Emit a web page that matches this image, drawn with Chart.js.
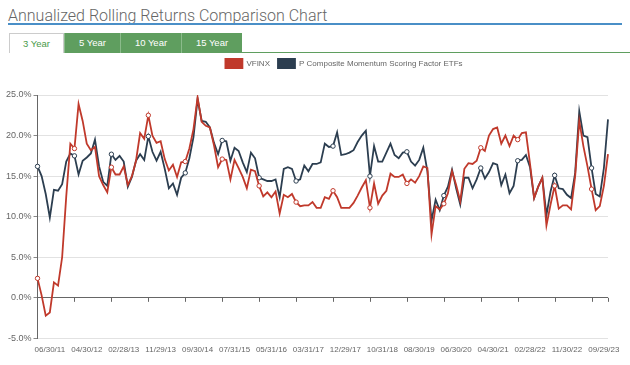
<!DOCTYPE html>
<html>
<head>
<meta charset="utf-8">
<script src="https://cdn.jsdelivr.net/npm/chart.js@4.4.0/dist/chart.umd.min.js"></script>
<style>
  body { margin: 0; background: #fff; width: 630px; height: 365px; overflow: hidden; position: relative; font-family: "Liberation Sans", Arial, sans-serif; }
  .title { position: absolute; left: 8px; top: 8px; font: 300 16px/16px Roboto, "Liberation Sans", sans-serif; color: #666; white-space: nowrap; }
  .rule { position: absolute; left: 8px; top: 23px; width: 614px; height: 2px; background: #4a8fc7; }
  .tabs { position: absolute; left: 9px; top: 33px; height: 20px; display: flex; }
  .tab { height: 20px; line-height: 20px; text-align: center; font-size: 9.5px; color: #fff; background: #5f9e5f; border-left: 1px solid #8bbb8b; box-sizing: border-box; }
  .tab.active { background: #fff; color: #4a9a4a; border: 1px solid #ccc; border-bottom: none; }
  .tabline { position: absolute; left: 242px; top: 52px; width: 388px; height: 1px; background: #5f9e5f; }
  #myChart { position: absolute; left: 0; top: 51px; }
</style>
</head>
<body>
<div class="title">Annualized Rolling Returns Comparison Chart</div>
<div class="rule"></div>
<div class="tabs">
  <div class="tab active" style="width:55px">3 Year</div>
  <div class="tab" style="width:56px">5 Year</div>
  <div class="tab" style="width:61px">10 Year</div>
  <div class="tab" style="width:61px">15 Year</div>
</div>
<div class="tabline"></div>
<canvas id="myChart" width="630" height="314"></canvas>
<script>
// rolling 3 year returns, %, one value per period
let vfinx = [
    2.4, 0.3, -2.2, -1.8, 1.9, 1.5, 5.0, 12.5, 19.0, 18.4,
    23.9, 21.8, 19.0, 18.2, 18.6, 15.0, 13.9, 13.0, 16.1, 15.2,
    15.2, 16.2, 13.9, 15.0, 16.9, 20.3, 19.6, 22.5, 20.0, 19.1,
    19.3, 17.1, 15.7, 16.4, 14.9, 16.7, 16.8, 18.4, 20.8, 24.7,
    21.7, 21.2, 21.0, 18.8, 16.1, 17.1, 17.0, 14.6, 17.0, 16.0,
    14.9, 13.5, 15.8, 15.6, 13.8, 12.5, 13.0, 12.4, 13.1, 10.4,
    12.7, 12.4, 12.8, 11.8, 11.3, 11.4, 11.4, 11.8, 11.1, 11.1,
    12.4, 12.2, 13.2, 12.4, 11.1, 11.1, 11.1, 11.7, 12.6, 13.6,
    14.5, 11.1, 14.1, 11.6, 12.6, 13.2, 15.3, 14.9, 14.9, 15.2,
    14.1, 14.6, 14.2, 15.0, 16.2, 16.0, 7.8, 11.3, 10.9, 11.6,
    12.9, 15.6, 13.9, 11.9, 15.9, 16.6, 16.5, 16.9, 18.5, 18.1,
    20.0, 20.8, 21.0, 19.0, 20.0, 18.7, 20.0, 19.5, 20.3, 20.4,
    16.5, 12.3, 13.7, 14.8, 8.9, 11.5, 13.8, 11.0, 11.4, 11.4,
    10.9, 15.0, 21.8, 18.7, 16.2, 13.4, 10.8, 11.3, 13.8, 17.7
];
let momentum = [
    16.2, 15.0, 12.8, 9.9, 13.3, 13.2, 14.0, 16.8, 17.8, 17.5,
    15.2, 16.9, 17.3, 17.8, 19.5, 16.2, 14.3, 13.8, 17.7, 17.0,
    17.5, 16.8, 13.7, 14.9, 16.9, 17.7, 17.0, 19.9, 18.0, 16.9,
    18.0, 15.9, 13.5, 14.1, 12.7, 14.8, 15.4, 17.2, 19.8, 24.5,
    21.8, 21.7, 21.0, 19.1, 17.7, 19.4, 19.3, 16.9, 18.5, 18.1,
    16.7, 15.5, 17.9, 17.2, 14.8, 14.6, 14.4, 14.4, 14.6, 12.4,
    15.9, 16.1, 15.9, 14.4, 14.6, 16.3, 15.6, 16.5, 16.5, 16.7,
    19.0, 18.6, 18.7, 20.4, 17.6, 17.7, 17.9, 18.2, 19.2, 20.0,
    20.6, 15.0, 18.7, 16.8, 16.8, 17.9, 19.0, 17.6, 17.2, 17.9,
    18.0, 16.8, 16.3, 17.0, 18.5, 15.6, 9.5, 12.1, 10.8, 12.6,
    13.7, 15.8, 13.5, 11.5, 14.8, 14.8, 13.5, 14.6, 16.0, 14.7,
    15.5, 16.6, 16.4, 13.9, 15.2, 12.9, 13.8, 16.9, 17.0, 17.6,
    16.1, 12.3, 13.7, 14.8, 10.2, 13.1, 15.1, 13.5, 13.4, 12.7,
    12.3, 15.4, 23.0, 20.0, 19.8, 16.0, 12.8, 12.5, 16.0, 22.0
];
let tickDates = ["06/30/11", "04/30/12", "02/28/13", "11/29/13", "09/30/14", "07/31/15",
    "05/31/16", "03/31/17", "12/29/17", "10/31/18", "08/30/19", "06/30/20",
    "04/30/21", "02/28/22", "11/30/22", "09/29/23"];
let tickIndex = [3, 12, 21, 30, 39, 48, 57, 66, 75, 84, 93, 102, 111, 120, 129, 138];
let yTicks = [-5, 0, 5, 10, 15, 20, 25];
const markEvery = 9; // hollow markers and axis tick marks

const labelArray = vfinx.map((v, i) => {
    const k = tickIndex.indexOf(i);
    return k >= 0 ? tickDates[k] : "";
});

const red = "rgb(192, 57, 43)";
const navy = "rgb(44, 62, 80)";

const plugin = {
    id: 'legend_and_zero_axis',
    beforeInit: (chart) => {
        const fit = chart.legend.fit;
        chart.legend.fit = function () {
            fit.call(this);
            this.height += 17;
        };
    },
    afterLayout: (chart) => {
        chart.legend.left += 38;
        chart.legend.right += 38;
    },
    afterDraw: (chart) => {
        const ctx = chart.ctx;
        const x = chart.scales.x;
        const y0 = chart.scales.y.getPixelForValue(0);
        ctx.save();
        ctx.strokeStyle = '#666';
        ctx.lineWidth = 1;
        ctx.beginPath();
        for (let i = markEvery; i < labelArray.length; i += markEvery) {
            const px = Math.round(x.getPixelForValue(i)) + 0.5;
            ctx.moveTo(px, y0);
            ctx.lineTo(px, y0 + 4);
        }
        const pr = Math.round(x.right) + 0.5;
        ctx.moveTo(pr, y0);
        ctx.lineTo(pr, y0 + 4);
        ctx.stroke();
        ctx.restore();
    }
};

const marker = (c) => (c.dataIndex % markEvery === 0 ? 2.2 : 0);

var ctx = document.getElementById("myChart").getContext("2d");
var myChart = new Chart(ctx, {
    type: "line",
    plugins: [plugin],
    data: {
        labels: labelArray,
        datasets: [{
            label: 'VFINX',
            data: vfinx,
            borderColor: red,
            backgroundColor: red,
            borderWidth: 1.8,
            fill: false,
            tension: 0,
            pointRadius: marker,
            pointBorderWidth: 1,
            pointBorderColor: red,
            pointBackgroundColor: '#fff'
        }, {
            label: 'P Composite Momentum Scoring Factor ETFs',
            data: momentum,
            borderColor: navy,
            backgroundColor: navy,
            borderWidth: 1.8,
            fill: false,
            tension: 0,
            pointRadius: marker,
            pointBorderWidth: 1,
            pointBorderColor: navy,
            pointBackgroundColor: '#fff'
        }]
    },
    options: {
        responsive: false,
        animation: false,
        layout: { padding: { left: 4, right: 22, top: 0, bottom: 3 } },
        plugins: {
            legend: {
                position: 'top',
                labels: {
                    boxWidth: 17,
                    boxHeight: 9,
                    padding: 8,
                    color: '#666',
                    font: { family: 'Liberation Sans', size: 8 }
                }
            },
            tooltip: { enabled: false }
        },
        scales: {
            x: {
                grid: { display: false, drawTicks: false },
                border: { display: false },
                ticks: {
                    autoSkip: false,
                    maxRotation: 0,
                    minRotation: 0,
                    padding: 7,
                    color: '#666',
                    font: { family: 'Liberation Sans', size: 8 },
                    callback: (v) => labelArray[v]
                }
            },
            y: {
                min: -5,
                max: 25,
                afterBuildTicks: (axis) => { axis.ticks = yTicks.map(v => ({ value: v })); },
                grid: {
                    color: (c) => (c.tick && c.tick.value === 0 ? '#666' : '#e2e2e2'),
                    tickColor: '#888',
                    tickLength: 4
                },
                border: { display: true, color: '#666', width: 1 },
                ticks: {
                    padding: 2,
                    color: '#666',
                    font: { family: 'Liberation Sans', size: 9 },
                    callback: (v) => v.toFixed(1) + '%'
                }
            }
        }
    }
});
</script>
</body>
</html>
